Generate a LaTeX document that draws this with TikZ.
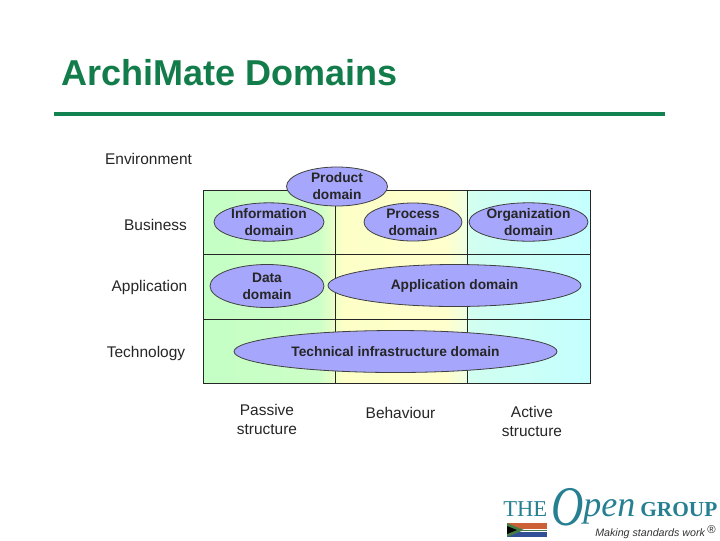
\documentclass[tikz,border=0pt]{standalone}
\usepackage{fontspec}
\setmainfont{Liberation Sans}
\newfontfamily\logoserif{Liberation Serif}
\usetikzlibrary{shapes.geometric}
\definecolor{titlegreen}{RGB}{18,125,74}
\definecolor{rulegreen}{RGB}{18,130,80}
\definecolor{domainblue}{RGB}{166,166,252}
\definecolor{logoteal}{RGB}{38,128,146}
\definecolor{flagorange}{RGB}{205,95,55}
\definecolor{flaggreen}{RGB}{70,125,70}
\definecolor{flagblue}{RGB}{50,80,150}
\pgfdeclarehorizontalshading{cellbands}{100bp}{
  rgb(0bp)=(0.77,1,0.77);
  rgb(25bp)=(0.77,1,0.77);
  rgb(40bp)=(0.80,1,0.78);
  rgb(43bp)=(0.99,1,0.78);
  rgb(56.2bp)=(1,1,0.80);
  rgb(58.8bp)=(0.94,1,0.88);
  rgb(59.4bp)=(0.82,1,0.94);
  rgb(75bp)=(0.77,1,1);
  rgb(100bp)=(0.77,1,1)}
\tikzset{
  domainnode/.style={ellipse,draw=black!75,line width=0.6pt,fill=domainblue,inner sep=0pt,
    align=center,font=\bfseries\fontsize{10.3pt}{12.8pt}\selectfont,text=black!85},
  axislabel/.style={inner sep=0pt,align=center,font=\fontsize{11.6pt}{13.6pt}\selectfont,text=black!85},
  cellline/.style={line width=0.7pt,draw=black!85},
  logotext/.style={anchor=base west,inner sep=0pt,text=logoteal}
}
\begin{document}
\begin{tikzpicture}[x=0.75pt,y=0.75pt,yscale=-1,xscale=1]
\useasboundingbox (0,0) rectangle (720,540);
\fill[white] (0,0) rectangle (720,540);

% title
\node (title) [anchor=west,inner sep=0pt,text=titlegreen,font=\bfseries\fontsize{27pt}{30pt}\selectfont] at (61,72.5) {ArchiMate Domains};
\coordinate (ruleleft) at (54,114);
\coordinate (ruleright) at (665,114);
\draw [rulegreen,line width=2.5pt] (ruleleft) -- (ruleright);

% grid
\coordinate (gridnw) at (203,190.5);
\coordinate (gridse) at (590.5,383);
\shade [shading=cellbands] (gridnw) rectangle (gridse);
\foreach \gx in {335.5,467} \draw [cellline] (\gx,190.5) -- (\gx,383);
\foreach \gy in {254.5,319.5} \draw [cellline] (203,\gy) -- (590.5,\gy);
\draw [cellline] (gridnw) rectangle (gridse);

% domains
\node (product) [domainnode,minimum width=75.75pt,minimum height=29.25pt] at (337,186.5) {Product\\domain};
\node (information) [domainnode,minimum width=82.5pt,minimum height=28.5pt] at (269,222) {Information\\domain};
\node (process) [domainnode,minimum width=73.5pt,minimum height=28.5pt] at (413,222) {Process\\domain};
\node (organization) [domainnode,minimum width=89.25pt,minimum height=28.5pt] at (528.5,222) {Organization\\domain};
\node (data) [domainnode,minimum width=85.5pt,minimum height=32.25pt] at (267,286) {Data\\domain};
\node (application) [domainnode,minimum width=189.75pt,minimum height=31.5pt] at (454.5,285.5) {Application domain};
\node (technical) [domainnode,minimum width=242.25pt,minimum height=31.5pt] at (395.5,351.5) {Technical infrastructure domain};

% axis labels
\node (environment) [axislabel] at (148.5,158.5) {Environment};
\node (business) [axislabel] at (155.5,224.5) {Business};
\node (applabel) [axislabel] at (149.5,287.5) {Application};
\node (technology) [axislabel] at (146,353.5) {Technology};
\node (passive) [axislabel] at (267,419.5) {Passive\\structure};
\node (behaviour) [axislabel] at (400.5,412.5) {Behaviour};
\node (activelabel) [axislabel] at (532,421.5) {Active\\structure};

% logo
\node (logothe) [logotext,font=\logoserif\fontsize{17pt}{17pt}\selectfont] at (503,516) {THE};
\node (logoopen) [logotext,font=\logoserif\itshape\fontsize{42pt}{42pt}\selectfont] at (551,525) {\scalebox{0.8}[1]{O}};
\node (logopen) [logotext,font=\logoserif\itshape\fontsize{27pt}{27pt}\selectfont] at (583,516) {pen};
\node (logogroup) [logotext,font=\logoserif\bfseries\fontsize{16pt}{16pt}\selectfont] at (640,516) {GROUP};
\node (slogan) [anchor=base west,inner sep=0pt,text=black!80,font=\itshape\fontsize{8pt}{8pt}\selectfont] at (595,536) {Making standards work};
\node (reg) [anchor=base west,inner sep=0pt,text=black!80,font=\fontsize{8.5pt}{8.5pt}\selectfont] at (707,533) {®};

% flag
\fill [flagorange] (507,523) rectangle (547,528.5);
\fill [white] (507,528.5) rectangle (547,529.5);
\fill [flaggreen] (507,529.5) rectangle (547,531);
\fill [white] (507,531) rectangle (547,532);
\fill [flagblue] (507,532) rectangle (547,537);
\fill [flaggreen] (507,523) -- (524,530) -- (507,537) -- cycle;
\fill [black] (507,526) -- (517,530) -- (507,534) -- cycle;
\end{tikzpicture}
\end{document}
